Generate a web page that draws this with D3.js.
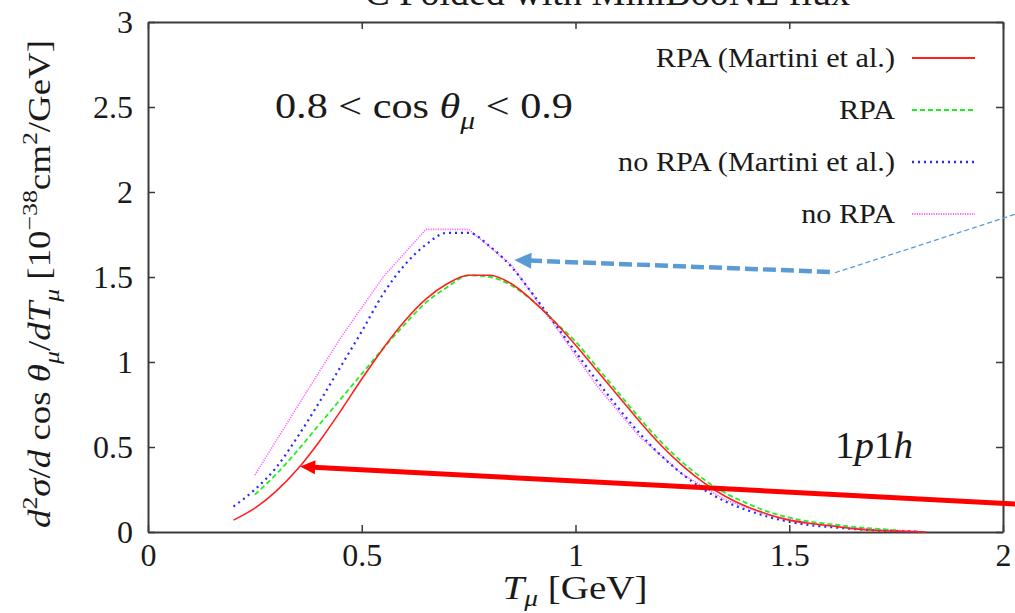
<!DOCTYPE html>
<html>
<head>
<meta charset="utf-8">
<script src="https://cdn.jsdelivr.net/npm/d3@7"></script>
<style>
body { margin: 0; background: #fff; overflow: hidden; }
text { font-family: "Liberation Serif", "Times New Roman", serif; fill: #1a1a1a; }
</style>
</head>
<body>
<div id="chart"></div>
<script>
// series: T_mu [GeV] and d2sigma values
var tRed = [0.2,0.25,0.3,0.35,0.4,0.45,0.5,0.55,0.6,0.65,0.7,0.75,0.8,0.85,0.9,0.95,1.0,1.05,1.1,1.15,1.2,1.25,1.3,1.35,1.4,1.45,1.5,1.55,1.6,1.65,1.7,1.75,1.82];
var vRed = [0.07,0.14,0.24,0.37,0.53,0.71,0.9,1.08,1.24,1.37,1.46,1.51,1.51,1.46,1.36,1.24,1.1,0.95,0.8,0.65,0.51,0.39,0.29,0.21,0.15,0.105,0.07,0.05,0.035,0.02,0.01,0.005,0.0];

var tGreen = [0.25,0.3,0.35,0.4,0.45,0.5,0.55,0.6,0.65,0.7,0.75,0.8,0.85,0.9,0.95,1.0,1.05,1.1,1.15,1.2,1.25,1.3,1.35,1.4,1.45,1.5,1.55,1.6,1.65,1.7,1.75];
var vGreen = [0.22,0.34,0.48,0.63,0.78,0.93,1.08,1.22,1.35,1.44,1.51,1.5,1.45,1.36,1.24,1.12,0.97,0.82,0.67,0.53,0.41,0.31,0.23,0.17,0.12,0.085,0.06,0.045,0.03,0.02,0.01];

var tBlue = [0.2,0.25,0.3,0.35,0.4,0.45,0.5,0.55,0.6,0.65,0.7,0.75,0.8,0.85,0.9,0.95,1.0,1.05,1.1,1.15,1.2,1.25,1.3,1.35,1.4,1.45,1.5,1.55,1.6,1.65,1.7,1.75,1.8];
var vBlue = [0.15,0.25,0.38,0.56,0.76,0.97,1.18,1.4,1.57,1.69,1.76,1.76,1.68,1.56,1.4,1.23,1.06,0.89,0.73,0.58,0.45,0.34,0.25,0.18,0.13,0.09,0.06,0.04,0.028,0.018,0.01,0.005,0.002];

var tPink = [0.25,0.35,0.45,0.55,0.65,0.75,0.85,0.95,1.05,1.15,1.25,1.35,1.45,1.55,1.65,1.75,1.8];
var vPink = [0.335,0.74,1.14,1.5,1.78,1.78,1.57,1.22,0.86,0.56,0.34,0.19,0.1,0.05,0.025,0.01,0.005];

var legendNames = ["RPA (Martini et al.)", "RPA", "no RPA (Martini et al.)", "no RPA"];
var xTicks = [0, 0.5, 1, 1.5, 2];
var yTicks = [0, 0.5, 1, 1.5, 2, 2.5, 3];

// annotation arrows, in data units [T, value]
var redArrow = [[2.03, 0.165], [0.356, 0.385]];
var blueArrow = [[1.595, 1.53], [0.857, 1.6]];
var blueLeader = [[1.607, 1.525], [2.03, 1.87]];

var width = 1015, height = 613;
var svg = d3.select("#chart").append("svg")
    .attr("width", width)
    .attr("height", height);

var x = d3.scaleLinear().domain([0, 2]).range([148, 1003]);
var y = d3.scaleLinear().domain([0, 3]).range([532, 22]);

// axes, ticks pointing inward on all sides
svg.append("g").attr("transform", "translate(0," + y(0) + ")")
    .call(d3.axisBottom(x).tickValues(xTicks).tickSizeInner(-7).tickSizeOuter(0).tickPadding(11)
        .tickFormat(function (d) { return d; }));
svg.append("g").attr("transform", "translate(0," + y(3) + ")")
    .call(d3.axisTop(x).tickValues(xTicks).tickSizeInner(-7).tickSizeOuter(0).tickFormat(""));
svg.append("g").attr("transform", "translate(" + x(0) + ",0)")
    .call(d3.axisLeft(y).tickValues(yTicks).tickSizeInner(-7).tickSizeOuter(0).tickPadding(15)
        .tickFormat(function (d) { return d; }));
svg.append("g").attr("transform", "translate(" + x(2) + ",0)")
    .call(d3.axisRight(y).tickValues(yTicks).tickSizeInner(-7).tickSizeOuter(0).tickFormat(""));

svg.selectAll(".domain").attr("stroke", "#3a3a3a").attr("stroke-width", 2);
svg.selectAll(".tick line").attr("stroke", "#3a3a3a").attr("stroke-width", 1.5);
svg.selectAll(".tick text").style("font-size", "32px").attr("fill", "#1a1a1a");

// curves
var smooth = d3.line()
    .curve(d3.curveMonotoneX)
    .x(function (d) { return x(d[0]); })
    .y(function (d) { return y(d[1]); });
var straight = d3.line()
    .x(function (d) { return x(d[0]); })
    .y(function (d) { return y(d[1]); });

function pairs(t, v) { return t.map(function (d, i) { return [d, v[i]]; }); }

var series = [
    { data: pairs(tPink, vPink), color: "#ff66ff", dash: "1.2,1.2", w: 1.6, gen: straight },
    { data: pairs(tBlue, vBlue), color: "#2a2aff", dash: "2,4", w: 2.2, gen: smooth },
    { data: pairs(tGreen, vGreen), color: "#22ee22", dash: "5,3", w: 1.8, gen: smooth },
    { data: pairs(tRed, vRed), color: "#ff2020", dash: null, w: 1.6, gen: smooth }
];

svg.append("g").selectAll("path")
    .data(series)
    .enter().append("path")
    .attr("d", function (d) { return d.gen(d.data); })
    .attr("fill", "none")
    .attr("stroke", function (d) { return d.color; })
    .attr("stroke-width", function (d) { return d.w; })
    .attr("stroke-dasharray", function (d) { return d.dash; });

function stretch(sel, k) {
    sel.each(function () {
        var w = this.getComputedTextLength();
        d3.select(this).attr("textLength", w * k).attr("lengthAdjust", "spacingAndGlyphs");
    });
}
function stretchTo(sel, len) {
    sel.attr("textLength", len).attr("lengthAdjust", "spacingAndGlyphs");
}

// legend
var legendStyle = [series[3], series[2], series[1], series[0]];
var leg = svg.append("g");
legendNames.forEach(function (name, i) {
    var yy = 58 + i * 52;
    var t = leg.append("text")
        .attr("x", 895).attr("y", yy + 9)
        .attr("text-anchor", "end")
        .style("font-size", "27px")
        .text(name);
    stretch(t, 1.12);
    leg.append("line")
        .attr("x1", 912).attr("x2", 975)
        .attr("y1", yy).attr("y2", yy)
        .attr("stroke", legendStyle[i].color)
        .attr("stroke-width", legendStyle[i].w + 0.3)
        .attr("stroke-dasharray", legendStyle[i].dash);
});

// rich text helper: parts are [string, kind] with kind "", "i", "sub", "sup"
function rich(g, parts, size, subShift) {
    var shift = 0;
    var sub = subShift == null ? 0.3 : subShift;
    parts.forEach(function (p) {
        var ts = g.append("tspan").text(p[0]);
        var kinds = p[1] || "";
        var target = 0;
        if (kinds.indexOf("sub") >= 0) target = size * sub;
        if (kinds.indexOf("sup") >= 0) target = -size * 0.42;
        if (target !== shift) { ts.attr("dy", target - shift); shift = target; }
        if (kinds.indexOf("sub") >= 0 || kinds.indexOf("sup") >= 0) ts.style("font-size", (size * 0.7) + "px");
        if (kinds.indexOf("i") >= 0) ts.style("font-style", "italic");
    });
}

// title, mostly cut off at the top
var title = svg.append("text").attr("x", 850).attr("y", 5)
    .attr("text-anchor", "end").style("font-size", "38px");
rich(title, [["12", "sup"], ["C Folded with MiniBooNE flux", ""]], 38);

// cos theta annotation
var ann = svg.append("text").attr("x", 275).attr("y", 118).style("font-size", "36px");
rich(ann, [["0.8 < cos ", ""], ["θ", "i"], ["μ", "i sub"], [" < 0.9", ""]], 36);
stretchTo(ann, 298);

var ph = svg.append("text").attr("x", 835).attr("y", 458).style("font-size", "37px");
rich(ph, [["1", ""], ["p", "i"], ["1", ""], ["h", "i"]], 37);
stretchTo(ph, 78);

// x label
var xl = svg.append("text").attr("x", 575).attr("y", 599).attr("text-anchor", "middle").style("font-size", "33px");
rich(xl, [["T", "i"], ["μ", "i sub"], [" [GeV]", ""]], 33, 0.2);
stretchTo(xl, 145);

// y label
var yl = svg.append("text")
    .attr("transform", "translate(50,284) rotate(-90)")
    .attr("text-anchor", "middle")
    .style("font-size", "31px");
rich(yl, [["d", "i"], ["2", "sup"], ["σ", "i"], ["/", ""], ["d", "i"], [" cos ", ""], ["θ", "i"], ["μ", "i sub"],
    ["/", ""], ["dT", "i"], ["μ", "i sub"], [" [10", ""], ["−38", "sup"], ["cm", ""], ["2", "sup"], ["/GeV]", ""]], 31);
stretchTo(yl, 488);

// arrows
function arrow(pts, color, w, dash, headLen, headHalf) {
    var p0 = [x(pts[0][0]), y(pts[0][1])], p1 = [x(pts[1][0]), y(pts[1][1])];
    var dx = p1[0] - p0[0], dy = p1[1] - p0[1], L = Math.sqrt(dx * dx + dy * dy);
    var ux = dx / L, uy = dy / L;
    var bx = p1[0] - ux * headLen, by = p1[1] - uy * headLen;
    svg.append("line")
        .attr("x1", p0[0]).attr("y1", p0[1]).attr("x2", bx + ux * 2).attr("y2", by + uy * 2)
        .attr("stroke", color).attr("stroke-width", w)
        .attr("stroke-dasharray", dash);
    svg.append("path")
        .attr("d", "M" + p1[0] + "," + p1[1] +
            "L" + (bx - uy * headHalf) + "," + (by + ux * headHalf) +
            "L" + (bx + uy * headHalf) + "," + (by - ux * headHalf) + "Z")
        .attr("fill", color);
}
arrow(redArrow, "#ff0000", 5, null, 15, 7);
arrow(blueArrow, "#5b9bd5", 4.5, "13,5", 17, 8);

svg.append("path")
    .attr("d", straight(blueLeader))
    .attr("fill", "none")
    .attr("stroke", "#5b9bd5")
    .attr("stroke-width", 1.3)
    .attr("stroke-dasharray", "5,3");
</script>
</body>
</html>
